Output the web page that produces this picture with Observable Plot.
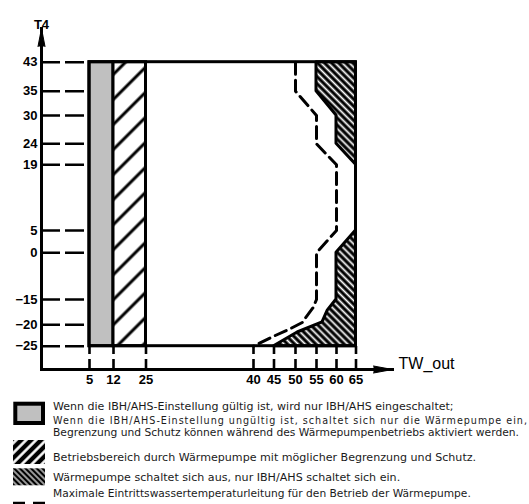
<!DOCTYPE html>
<html>
<head>
<meta charset="utf-8">
<script src="https://cdn.jsdelivr.net/npm/d3@7"></script>
<script src="https://cdn.jsdelivr.net/npm/@observablehq/plot@0.6"></script>
<style>
  html, body { margin: 0; padding: 0; background: #fff; overflow: hidden; }
  #chart svg, #legend svg { display: block; }
</style>
</head>
<body>
<div id="chart"></div>
<div id="legend"></div>
<script>
// ---- Data ----
const xTicks = [5, 12, 25, 40, 45, 50, 55, 60, 65];            // TW_out tick values
const yTicks = [-25, -20, -15, 0, 5, 19, 24, 30, 35, 43];      // T4 tick values
const twMin = 5, twMax = 65, t4Min = -25, t4Max = 43;

// vertical bands (TW_out ranges)
const bandNames = ["IBH/AHS", "Wärmepumpe"];
const bandStart = [5, 12];
const bandEnd = [12, 25];

// heat pump off zone, upper part (T4 -> TW_out left edge)
const offTopT4 = [43, 35, 30, 24, 19];
const offTopTW = [55, 55, 60, 60, 65];
// heat pump off zone, lower part
const offBotT4 = [5, 0, -15, -17.2, -19.5, -21.8, -25];
const offBotTW = [65, 60, 60, 57.8, 56.5, 50.5, 45];
// maximum inlet water temperature line
const maxT4 = [43, 35, 30, 24, 19, 5, 0, -15, -16.6, -18.6, -19.5, -20.9, -22.5, -25];
const maxTW = [50, 50, 55, 55, 60, 60, 55, 55, 54.2, 52.4, 51.7, 48.8, 45.3, 40];

// legend texts
const legendLines = [
  "Wenn die IBH/AHS-Einstellung gültig ist, wird nur IBH/AHS eingeschaltet;",
  "Wenn die IBH/AHS-Einstellung ungültig ist, schaltet sich nur die Wärmepumpe ein,",
  "Begrenzung und Schutz können während des Wärmepumpenbetriebs aktiviert werden.",
  "Betriebsbereich durch Wärmepumpe mit möglicher Begrenzung und Schutz.",
  "Wärmepumpe schaltet sich aus, nur IBH/AHS schaltet sich ein.",
  "Maximale Eintrittswassertemperaturleitung für den Betrieb der Wärmepumpe."
];

// ---- Tables built from the arrays ----
const bands = bandNames.map((name, i) => ({name, start: bandStart[i], end: bandEnd[i]}));
const offTop = offTopT4.map((t, i) => ({t, tw: offTopTW[i]}));
const offBot = offBotT4.map((t, i) => ({t, tw: offBotTW[i]}));
const maxLine = maxT4.map((t, i) => ({t, tw: maxTW[i]}));

const W = 529, H = 392;
const font = "'Liberation Sans', Arial, sans-serif";

const chart = Plot.plot({
  width: W,
  height: H,
  marginLeft: 41,
  marginRight: 137,
  marginTop: 28,
  marginBottom: 23,
  style: {fontFamily: font, background: "#fff", color: "#000"},
  x: {type: "linear", domain: xTicks, range: [89, 113, 145.5, 253, 273.5, 295, 316, 336, 355.5], label: null},
  y: {type: "linear", domain: yTicks, range: [345.7, 324.3, 299, 252.3, 230, 164.3, 143.3, 115, 90.7, 61.7], label: null},
  marks: [
    // dashed tick lines
    Plot.axisY(yTicks, {tickSize: -48, tickFormat: () => "", stroke: "#000", strokeWidth: 2.6, strokeDasharray: "19,5", label: null}),
    Plot.axisX(xTicks, {tickSize: -23, tickFormat: () => "", stroke: "#000", strokeWidth: 2.6, strokeDasharray: "10,5", label: null}),
    // bands
    Plot.rect([bands[0]], {x1: "start", x2: "end", y1: t4Min, y2: t4Max, fill: "#c0c0c0", stroke: "#000", strokeWidth: 3}),
    Plot.rect([bands[1]], {x1: "start", x2: "end", y1: t4Min, y2: t4Max, fill: "url(#hatchA)", stroke: "#000", strokeWidth: 3}),
    // heat pump off zones
    Plot.areaX(offTop, {y: "t", x1: "tw", x2: twMax, fill: "url(#hatchB)", stroke: "#000", strokeWidth: 3}),
    Plot.areaX(offBot, {y: "t", x1: "tw", x2: twMax, fill: "url(#hatchB)", stroke: "#000", strokeWidth: 3}),
    // max inlet water temperature line
    Plot.line(maxLine, {x: "tw", y: "t", stroke: "#000", strokeWidth: 3, strokeDasharray: "12,6"}),
    // outer operating frame
    Plot.rect([{}], {x1: twMin, x2: twMax, y1: t4Min, y2: t4Max, fill: "none", stroke: "#000", strokeWidth: 3}),
    // axes lines
    Plot.frame({anchor: "left", stroke: "#000", strokeWidth: 3}),
    Plot.frame({anchor: "bottom", stroke: "#000", strokeWidth: 3}),
    // tick labels
    Plot.axisY(yTicks, {tickSize: 0, tickPadding: 4, fontSize: 13, fontWeight: "bold", label: null}),
    Plot.axisX(xTicks, {tickSize: 0, tickPadding: 5, fontSize: 13, fontWeight: "bold", label: null}),
    // arrows
    Plot.vector([0], {frameAnchor: "top-left", shape: "spike", length: 18, r: 3.5, anchor: "end", fill: "#000", stroke: "#000", strokeWidth: 1}),
    Plot.vector([0], {frameAnchor: "bottom-right", shape: "spike", length: 19, r: 3.5, rotate: 90, anchor: "end", fill: "#000", stroke: "#000", strokeWidth: 1}),
    // axis titles
    Plot.text(["T4"], {frameAnchor: "top-left", dy: -8.5, textAnchor: "middle", fontSize: 13, fontWeight: "bold"}),
    Plot.text(["TW_out"], {frameAnchor: "bottom-right", dx: 6, dy: -1, textAnchor: "start", fontSize: 16})
  ]
});

// hatch patterns for the chart
const defs = d3.select(chart).insert("defs", ":first-child");
const pA = defs.append("pattern").attr("id", "hatchA").attr("patternUnits", "userSpaceOnUse")
  .attr("width", 17.7).attr("height", 17.7).attr("patternTransform", "rotate(45)");
pA.append("rect").attr("width", 17.7).attr("height", 17.7).attr("fill", "#fff");
pA.append("line").attr("x1", 8.85).attr("x2", 8.85).attr("y1", 0).attr("y2", 17.7).attr("stroke", "#000").attr("stroke-width", 3);
const pB = defs.append("pattern").attr("id", "hatchB").attr("patternUnits", "userSpaceOnUse")
  .attr("width", 5).attr("height", 5).attr("patternTransform", "rotate(-45)");
pB.append("rect").attr("width", 5).attr("height", 5).attr("fill", "#000");
pB.append("line").attr("x1", 2.5).attr("x2", 2.5).attr("y1", 0).attr("y2", 5).attr("stroke", "#fff").attr("stroke-width", 1.8);

document.getElementById("chart").appendChild(chart);

// ---- Legend ----
const LH = 504 - H;
const leg = d3.select("#legend").append("svg").attr("width", W).attr("height", LH)
  .style("font-family", "'DejaVu Sans', Verdana, sans-serif");
const ldefs = leg.append("defs");
const lA = ldefs.append("pattern").attr("id", "legA").attr("patternUnits", "userSpaceOnUse")
  .attr("width", 7).attr("height", 7).attr("patternTransform", "rotate(45)");
lA.append("rect").attr("width", 7).attr("height", 7).attr("fill", "#000");
lA.append("line").attr("x1", 3.5).attr("x2", 3.5).attr("y1", 0).attr("y2", 7).attr("stroke", "#fff").attr("stroke-width", 2.6);
const lB = ldefs.append("pattern").attr("id", "legB").attr("patternUnits", "userSpaceOnUse")
  .attr("width", 4).attr("height", 4).attr("patternTransform", "rotate(-45)");
lB.append("rect").attr("width", 4).attr("height", 4).attr("fill", "#000");
lB.append("line").attr("x1", 2).attr("x2", 2).attr("y1", 0).attr("y2", 4).attr("stroke", "#fff").attr("stroke-width", 1.2);

// swatches
leg.append("rect").attr("x", 15.3).attr("y", 11.7).attr("width", 27.7).attr("height", 19.3)
  .attr("fill", "#c0c0c0").attr("stroke", "#000").attr("stroke-width", 4);
leg.append("rect").attr("x", 13).attr("y", 48).attr("width", 32).attr("height", 24).attr("fill", "url(#legA)");
leg.append("rect").attr("x", 13).attr("y", 76.3).attr("width", 32).attr("height", 17).attr("fill", "url(#legB)");
leg.append("line").attr("x1", 13).attr("x2", 45).attr("y1", 111.3).attr("y2", 111.3)
  .attr("stroke", "#000").attr("stroke-width", 3).attr("stroke-dasharray", "12,8");

// texts: each line is fitted so that a reference character lands where it does in the original
const textX = 53;
const textY = [17.5, 32, 44, 68.5, 89, 105];
const anchorChar = [37, null, 33, 33, 35, 37];   // character index seen at x = 260
const anchorX = 260;
const maxEnd = [527, 527, 519, 527, 527, 527];
legendLines.forEach((s, i) => {
  const t = leg.append("text").attr("x", textX).attr("y", textY[i])
    .attr("font-size", 9.6).attr("fill", "#1a1a1a")
    .text(s);
  const node = t.node();
  const natural = node.getComputedTextLength();
  let target;
  if (anchorChar[i] == null) {
    target = maxEnd[i] - textX;
  } else {
    const p = node.getStartPositionOfChar(anchorChar[i]).x - textX;
    target = Math.min(natural * (anchorX - textX) / p, maxEnd[i] - textX);
  }
  t.attr("textLength", target).attr("lengthAdjust", i === 1 ? "spacing" : "spacingAndGlyphs");
});
</script>
</body>
</html>
